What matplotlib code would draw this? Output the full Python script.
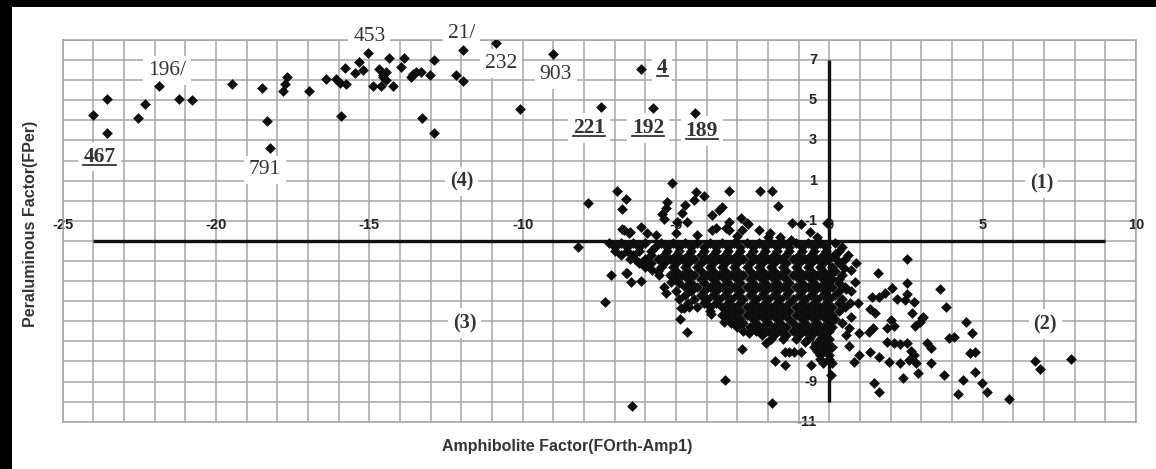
import numpy as np
import matplotlib
matplotlib.use("Agg")
import matplotlib.pyplot as plt
from matplotlib.lines import Line2D
from matplotlib.patches import Rectangle
from matplotlib.transforms import IdentityTransform

# ---- data ----
# sparse points of the upper-left group (x, y)
top_pts = [(-24.0, 4.27), (-23.56, 5.06), (-23.56, 3.39), (-22.55, 4.13), (-22.31, 4.80),
           (-21.86, 5.73), (-21.21, 5.06), (-20.78, 5.0), (-19.47, 5.81), (-18.51, 5.61),
           (-18.35, 3.97), (-18.24, 2.61), (-17.69, 6.14), (-17.75, 5.81), (-17.8, 5.48),
           (-16.98, 5.48), (-16.43, 6.06), (-16.1, 6.06), (-15.95, 5.84), (-15.76, 5.81),
           (-15.81, 6.59), (-15.91, 4.22), (-15.46, 6.34), (-15.33, 6.92), (-15.2, 6.51),
           (-15.06, 7.37), (-14.88, 5.71), (-14.67, 6.54), (-14.62, 5.71), (-14.57, 6.26),
           (-14.35, 7.09), (-14.46, 6.01), (-14.24, 5.71), (-14.57, 6.17), (-14.46, 6.42),
           (-13.97, 6.67), (-13.86, 7.09), (-13.64, 6.17), (-13.48, 6.42), (-13.32, 6.42),
           (-13.59, 6.31), (-13.02, 6.26), (-12.88, 7.0), (-13.28, 4.13), (-12.88, 3.39),
           (-11.96, 7.5), (-12.18, 6.26), (-11.96, 5.97), (-10.87, 7.87), (-10.09, 4.57),
           (-9.0, 7.3), (-7.45, 4.65), (-6.15, 6.54), (-5.74, 4.6), (-4.38, 4.35)]

# points just above the horizontal axis line
mid_pts = [(-7.86, -0.1), (-6.94, 0.48), (-6.64, 0.09), (-6.77, -0.43), (-5.12, 0.87),
           (-3.27, 0.48), (-2.26, 0.48), (-1.88, 0.48), (-1.68, -0.26), (-4.36, 0.45),
           (-4.09, 0.22), (-4.41, 0.04), (-4.71, -0.23), (-3.82, -0.71), (-3.49, -0.3),
           (-3.6, -0.46), (-5.28, -0.05), (-5.34, -0.38), (-5.45, -0.67), (-5.39, -0.9),
           (-4.79, -0.63), (-4.96, -1.04), (-4.65, -1.04), (-3.27, -1.04), (-2.89, -0.88),
           (-2.68, -1.13), (-2.30, -1.46), (-1.92, -1.62), (-3.71, -1.37), (-3.27, -1.46),
           (-2.84, -1.46), (-6.69, -1.46), (-6.53, -1.62), (-6.15, -1.29), (-5.93, -1.62),
           (-5.66, -1.71), (-5.01, -1.62), (-3.82, -1.46), (-1.21, -1.13), (-0.91, -1.17),
           (-0.64, -1.57), (-0.07, -1.13), (-2.64, -1.17), (-1.26, -1.95), (-3.38, -1.37),
           (-6.75, -1.41), (-6.51, -1.57), (-1.6, -1.8), (-2.0, -1.8), (-4.3, -1.7),
           (-3.0, -1.75), (-0.4, -1.8)]

# dense core, one row per y value
core_row_y = [-2.1, -2.3, -2.5, -2.7, -2.9, -3.1, -3.3, -3.5, -3.7, -3.9, -4.1, -4.3,
              -4.5, -4.7, -4.9, -5.1, -5.3, -5.5, -5.7, -5.9, -6.1, -6.3, -6.5, -6.7,
              -6.9, -7.1, -7.3, -7.5, -7.7, -7.9, -8.1]
core_row_x = [
    [-7.2, -6.8, -6.4, -6.0, -5.5, -5.1, -4.7, -4.3, -3.9, -3.5, -3.1, -2.7, -2.3, -1.9, -1.5, -1.1, -0.7, -0.3, 0.2],
    [-7.0, -6.6, -6.2, -5.7, -5.3, -4.9, -4.5, -4.1, -3.7, -3.3, -2.9, -2.5, -2.1, -1.7, -1.3, -0.9, -0.5, -0.1],
    [-7.0, -6.6, -6.2, -5.8, -5.3, -4.9, -4.5, -4.1, -3.7, -3.3, -2.9, -2.5, -2.1, -1.7, -1.3, -0.9, -0.5, -0.1, 0.3],
    [-6.8, -6.4, -5.8, -5.4, -5.0, -4.6, -4.2, -3.8, -3.4, -3.0, -2.6, -2.2, -1.8, -1.4, -1.0, -0.6, -0.2, 0.2],
    [-6.5, -6.0, -5.6, -5.2, -4.8, -4.4, -4.0, -3.6, -3.2, -2.8, -2.4, -2.0, -1.6, -1.2, -0.8, -0.4, 0.0, 0.5],
    [-6.2, -5.8, -5.4, -5.0, -4.6, -4.2, -3.8, -3.4, -3.0, -2.6, -2.2, -1.8, -1.4, -1.0, -0.6, -0.2, 0.3],
    [-6.0, -5.5, -5.1, -4.7, -4.3, -3.9, -3.5, -3.1, -2.7, -2.3, -1.9, -1.5, -1.1, -0.7, -0.3, 0.1],
    [-5.6, -5.0, -4.6, -4.2, -3.8, -3.4, -3.0, -2.6, -2.2, -1.8, -1.4, -1.0, -0.6, -0.2, 0.2],
    [-5.2, -4.8, -4.4, -4.0, -3.6, -3.2, -2.8, -2.4, -2.0, -1.6, -1.2, -0.8, -0.4, 0.0, 0.4],
    [-5.0, -4.6, -4.2, -3.8, -3.4, -3.0, -2.6, -2.2, -1.8, -1.4, -1.0, -0.6, -0.2, 0.1],
    [-4.9, -4.5, -4.1, -3.7, -3.3, -2.9, -2.5, -2.1, -1.7, -1.3, -0.9, -0.5, -0.1, 0.3],
    [-4.7, -4.3, -3.9, -3.5, -3.1, -2.7, -2.3, -1.9, -1.5, -1.1, -0.7, -0.3, 0.1, 0.5],
    [-5.0, -4.5, -4.1, -3.7, -3.3, -2.9, -2.5, -2.1, -1.7, -1.3, -0.9, -0.5, -0.1, 0.3, 0.7],
    [-4.7, -4.2, -3.8, -3.4, -3.0, -2.6, -2.2, -1.8, -1.4, -1.0, -0.6, -0.2, 0.2],
    [-4.9, -4.4, -4.0, -3.6, -3.2, -2.8, -2.4, -2.0, -1.6, -1.2, -0.8, -0.4, 0.0, 0.4],
    [-4.6, -4.1, -3.7, -3.3, -2.9, -2.5, -2.1, -1.7, -1.3, -0.9, -0.5, -0.1, 0.3],
    [-4.3, -3.9, -3.5, -3.1, -2.7, -2.3, -1.9, -1.5, -1.1, -0.7, -0.3, 0.1, 0.5],
    [-3.9, -3.3, -2.9, -2.5, -2.1, -1.7, -1.3, -0.9, -0.5, -0.1, 0.3],
    [-3.5, -3.1, -2.7, -2.3, -1.9, -1.5, -1.1, -0.7, -0.3, 0.1],
    [-3.3, -2.9, -2.5, -2.1, -1.7, -1.3, -0.9, -0.5, -0.1, 0.2],
    [-3.2, -2.8, -2.4, -2.0, -1.6, -1.2, -0.8, -0.4, 0.0, 0.4],
    [-3.0, -2.6, -2.2, -1.8, -1.4, -1.0, -0.6, -0.2, 0.1],
    [-2.8, -2.4, -2.0, -1.6, -1.2, -0.8, -0.4, 0.0],
    [-2.2, -1.8, -1.4, -1.0, -0.6, -0.2],
    [-1.9, -1.5, -1.1, -0.7, -0.3, 0.0],
    [-0.4, -0.1],
    [-0.5, -0.2, 0.1],
    [-0.4, -0.1],
    [-0.3, 0.0],
    [-0.3, 0.0],
    [-0.2, 0.1],
]

# scattered points around and below the core
tail_pts = [(0.42, -2.29), (0.18, -2.67), (0.88, -3.12), (0.47, -3.33), (0.72, -3.45),
            (1.59, -3.61), (0.31, -3.9), (0.85, -4.06), (0.53, -4.39), (2.53, -2.9),
            (2.53, -4.08), (3.6, -4.41), (1.39, -4.81), (1.61, -4.81), (1.83, -4.58),
            (2.03, -4.36), (2.21, -4.91), (2.53, -4.64), (2.75, -5.03), (3.8, -5.31),
            (0.66, -5.08), (0.94, -5.11), (1.31, -5.41), (1.48, -5.61), (0.72, -5.77),
            (2.7, -5.61), (3.05, -5.77), (2.97, -6.02), (2.78, -6.24), (4.46, -6.02),
            (4.65, -6.57), (2.1, -6.24), (2.0, -5.95), (1.88, -6.35), (1.43, -6.35),
            (1.29, -6.52), (0.96, -6.6), (0.64, -6.35), (0.53, -6.68), (3.89, -6.85),
            (4.06, -6.77), (3.19, -7.07), (3.3, -7.35), (1.88, -7.02), (2.1, -7.1),
            (2.32, -7.13), (2.53, -7.07), (2.65, -7.47), (2.75, -7.68), (2.59, -7.93),
            (2.81, -8.06), (2.32, -8.09), (1.94, -8.01), (1.61, -7.76), (1.34, -7.51),
            (0.96, -7.68), (0.8, -8.01), (0.64, -7.23), (4.6, -7.56), (4.76, -7.51),
            (3.3, -8.09), (4.76, -8.51), (2.39, -8.84), (2.89, -8.56), (3.73, -8.68),
            (4.36, -8.92), (4.98, -9.09), (5.14, -9.51), (4.19, -9.62), (1.45, -9.06),
            (1.63, -9.51), (5.85, -9.87), (6.72, -7.98), (6.88, -8.39), (7.89, -7.88),
            (0.04, -8.68), (-0.61, -8.18), (-1.43, -8.18), (-1.43, -7.51), (-1.16, -7.51),
            (-0.94, -7.51), (-2.84, -7.4), (-2.06, -7.1), (-1.78, -7.96), (-0.78, -7.02),
            (-1.86, -10.08), (-6.44, -10.22), (-3.41, -8.92), (-4.63, -6.52), (-4.88, -5.9),
            (-4.74, -5.36), (-4.58, -5.28), (-5.34, -4.61), (-4.03, -4.94), (-3.87, -5.64),
            (-3.44, -6.02), (-3.38, -5.85), (-7.31, -5.03), (-8.21, -2.29), (-7.13, -3.7),
            (-6.64, -3.61), (-6.48, -4.03), (-6.15, -3.98), (-6.59, -3.62), (-6.31, -2.95),
            (-5.77, -3.45), (-5.55, -3.7), (-5.39, -4.28), (-5.17, -4.03), (-4.85, -5.36),
            (-3.06, -6.1), (-2.62, -6.6), (-2.3, -6.44), (-1.32, -7.51), (3.02, -5.85),
            (2.48, -4.94), (0.25, -2.95), (0.6, -2.7)]

# sample-number annotations: text, x, y, bold+underlined
note_text = ["196/", "453", "21/", "232", "903", "791", "4", "221", "192", "189", "467"]
note_x = [-21.6, -15.0, -12.0, -10.7, -8.92, -18.4, -5.45, -7.83, -5.9, -4.16, -23.8]
note_y = [6.5, 8.15, 8.3, 6.84, 6.26, 1.53, 6.6, 3.6, 3.6, 3.49, 2.2]
note_ul = [False, False, False, False, False, False, True, True, True, True, True]

quad_text = ["(1)", "(2)", "(3)", "(4)"]
quad_x = [6.93, 7.04, -11.9, -12.0]
quad_y = [0.87, -6.14, -6.1, 0.95]

xtick_vals = [-25, -20, -15, -10, -5, 0, 5, 10]
ytick_vals = [7, 5, 3, 1, -1, -3, -5, -7, -9, -11]

# ---- figure ----
fig = plt.figure(figsize=(11.56, 4.69), dpi=100, facecolor="white")
ax = fig.add_axes([62.7 / 1156, 47.3 / 469, (1136 - 62.7) / 1156, (421.7 - 40) / 469])
ax.set_xlim(-25, 10)
ax.set_ylim(-11, 8)

grid_col = "#a6a6a6"
ax.set_xticks(np.arange(-25, 11, 1))
ax.set_yticks(np.arange(-11, 9, 1))
ax.tick_params(length=0, labelbottom=False, labelleft=False)
ax.grid(True, color=grid_col, lw=1.1)
ax.set_axisbelow(True)
for s in ax.spines.values():
    s.set_color(grid_col)
    s.set_linewidth(1.1)

# thick axis lines
ax.plot([-24, 9], [-2, -2], color="#111111", lw=2.4, zorder=2, solid_capstyle="butt")
ax.plot([0, 0], [-10, 7], color="#111111", lw=2.4, zorder=2, solid_capstyle="butt")

tick_font = dict(family="Liberation Sans", weight="bold", fontsize=10.5, color="#222222")
for v in xtick_vals:
    ax.text(v, -1.2, str(v), ha="center", va="center", zorder=2.5, **tick_font)
for v in ytick_vals:
    ax.text(-0.4, v, str(v), ha="right", va="center", zorder=2.5, **tick_font)

# scatter
px = [p[0] for p in top_pts + mid_pts + tail_pts]
py = [p[1] for p in top_pts + mid_pts + tail_pts]
for yy, row in zip(core_row_y, core_row_x):
    px += row
    py += [yy] * len(row)
ax.scatter(px, py, marker="D", s=30, color="#0d0d0d", linewidths=0, zorder=4)

# annotations
box = dict(facecolor="white", edgecolor="none", pad=3.5)
underlined = []
for t, x, y, ul in zip(note_text, note_x, note_y, note_ul):
    txt = ax.text(x, y, t, ha="center", va="center", family="Liberation Serif",
                  fontsize=15.5, weight="bold" if ul else "normal", color="#333333",
                  bbox=box, zorder=3, clip_on=False)
    if ul:
        underlined.append(txt)
for t, x, y in zip(quad_text, quad_x, quad_y):
    ax.text(x, y, t, ha="center", va="center", family="Liberation Serif",
            fontsize=14.5, weight="bold", color="#333333", bbox=box, zorder=3)

fig.text(567.5 / 1156, 1 - 446.7 / 469, "Amphibolite Factor(FOrth-Amp1)",
         ha="center", va="center", family="Liberation Sans", weight="bold", fontsize=11.5,
         color="#333333")
fig.text(31 / 1156, 1 - 223.5 / 469, "Peraluminous Factor(FPer)", rotation=90,
         ha="center", va="center", family="Liberation Sans", weight="bold", fontsize=11.5,
         color="#333333")

# black frame remains on top and left
fig.add_artist(Rectangle((0, 1 - 7.5 / 469), 1, 7.5 / 469, transform=fig.transFigure,
                         facecolor="black", edgecolor="none", zorder=10))
fig.add_artist(Rectangle((0, 0), 12 / 1156, 1, transform=fig.transFigure,
                         facecolor="black", edgecolor="none", zorder=10))

# underline the bold sample numbers
fig.canvas.draw()
for txt in underlined:
    bb = txt.get_window_extent()
    fig.add_artist(Line2D([bb.x0, bb.x1], [bb.y0 + 2, bb.y0 + 2], transform=IdentityTransform(),
                          color="#333333", lw=1.3))

fig.savefig("out.png", dpi=100, facecolor="white")
